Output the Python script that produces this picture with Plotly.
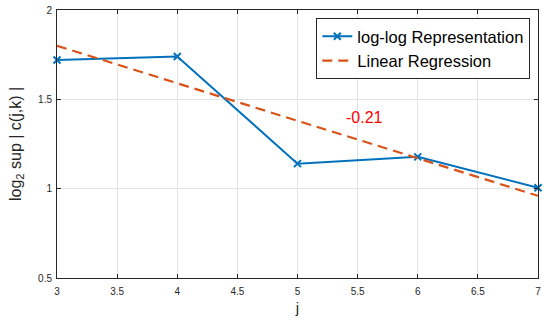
import plotly.graph_objects as go

j = [3, 4, 5, 6, 7]
loglog = [1.72, 1.74, 1.14, 1.178, 1.005]
regression = [1.80, 1.59, 1.38, 1.17, 0.96]
slope_label = "-0.21"
xticks = [3, 3.5, 4, 4.5, 5, 5.5, 6, 6.5, 7]
yticks = [0.5, 1, 1.5, 2]

fig = go.Figure()
fig.add_trace(go.Scatter(
    x=j, y=loglog, mode="lines+markers", name="log-log Representation",
    line=dict(color="#0072BD", width=2),
    marker=dict(symbol="x-thin", size=7, line=dict(color="#0072BD", width=2)),
    cliponaxis=False,
))
fig.add_trace(go.Scatter(
    x=j, y=regression, mode="lines", name="Linear Regression",
    line=dict(color="#D95319", width=2.2, dash="10px,6px"),
))
fig.add_annotation(x=5.56, y=1.40, text=slope_label, showarrow=False,
                   font=dict(color="red", size=16, family="Liberation Sans"))

axis_common = dict(
    showgrid=True, gridcolor="#e3e3e3", gridwidth=1,
    showline=True, linecolor="#262626", linewidth=1, mirror="ticks",
    ticks="inside", ticklen=4, tickcolor="#262626",
    tickfont=dict(size=10, color="#262626", family="Liberation Sans"),
    zeroline=False, automargin=False, ticklabeloverflow="allow",
)
fig.update_xaxes(range=[3, 7], tickvals=xticks, ticktext=[f"{v:g}" for v in xticks],
                 ticklabelstandoff=4,
                 title=dict(text="j", font=dict(size=15, color="#262626"), standoff=6),
                 **axis_common)
fig.update_yaxes(range=[0.5, 2], tickvals=yticks, ticktext=[f"{v:g}" for v in yticks],
                 ticklabelstandoff=2,
                 title=dict(text="log<sub>2</sub> sup | c(j,k) |",
                            font=dict(size=16, color="#262626"), standoff=12),
                 **axis_common)
fig.update_layout(
    width=550, height=325,
    margin=dict(l=57, r=12, t=10, b=47),
    plot_bgcolor="white", paper_bgcolor="white",
    font=dict(family="Liberation Sans", color="#262626"),
    legend=dict(x=0.984, y=0.97, xanchor="right", yanchor="top",
                bgcolor="white", bordercolor="#262626", borderwidth=1,
                font=dict(size=16.5, color="black"), tracegroupgap=0,
                itemwidth=30),
    showlegend=True,
)
fig.write_html("out.html", config={"displayModeBar": False},
               post_script="document.body.style.margin='0';document.body.style.padding='0';")
